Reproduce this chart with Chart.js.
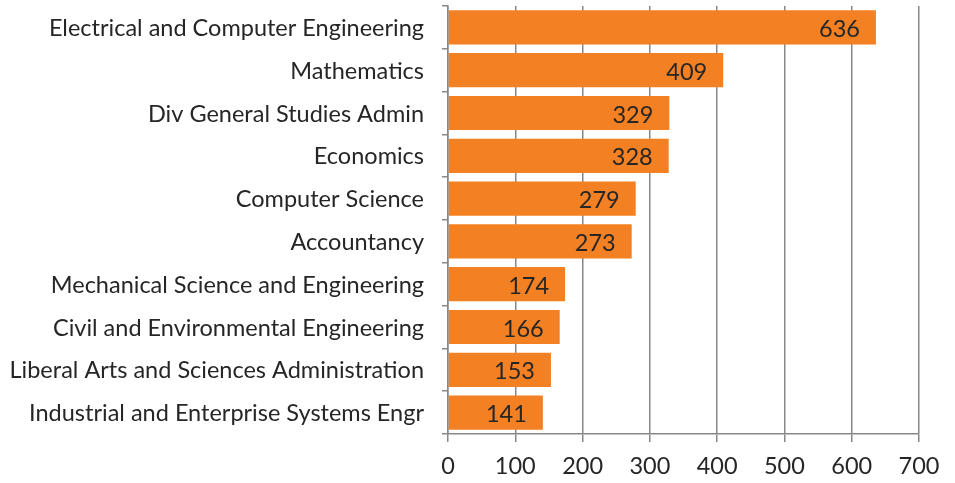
<!DOCTYPE html>
<html>
<head>
<meta charset="utf-8">
<script src="https://cdn.jsdelivr.net/npm/chart.js@4"></script>
<style>
  html, body { margin: 0; padding: 0; background: #fff; }
  #wrap { width: 955px; height: 483px; }
</style>
</head>
<body>
<div id="wrap"><canvas id="myChart"></canvas></div>
<script>
const departments = [
    'Electrical and Computer Engineering',
    'Mathematics',
    'Div General Studies Admin',
    'Economics',
    'Computer Science',
    'Accountancy',
    'Mechanical Science and Engineering',
    'Civil and Environmental Engineering',
    'Liberal Arts and Sciences Administration',
    'Industrial and Enterprise Systems Engr',
];
const counts = [636, 409, 329, 328, 279, 273, 174, 166, 153, 141];
const xTicks = [0, 100, 200, 300, 400, 500, 600, 700];

const colorVar = {
    bar: '#F38023',
    grid: '#888888',
    text: '#262626',
};
const fontFamily = 'Lato, "Open Sans", sans-serif';
const fontSize = 23.5;

// draws the value inside the end of each bar
const barValues = {
    id: 'barValues',
    afterDatasetsDraw(chart) {
        const c = chart.ctx;
        const meta = chart.getDatasetMeta(0);
        c.save();
        c.font = fontSize + 'px ' + fontFamily;
        c.fillStyle = colorVar.text;
        c.textAlign = 'right';
        c.textBaseline = 'middle';
        meta.data.forEach((bar, i) => {
            c.fillText(String(counts[i]), bar.x - 16, bar.y + 2);
        });
        c.restore();
    }
};

const ctx = document.getElementById('myChart');

new Chart(ctx, {
    type: 'bar',
    data: {
        labels: departments,
        datasets: [{
            data: counts,
            backgroundColor: colorVar.bar,
            borderWidth: 0,
            barPercentage: 0.8,
            categoryPercentage: 1,
        }]
    },
    plugins: [barValues],
    options: {
        indexAxis: 'y',
        responsive: true,
        maintainAspectRatio: false,
        animation: false,
        layout: { padding: { top: 6, right: 36, left: 0, bottom: 0 } },
        plugins: {
            legend: { display: false },
            tooltip: { enabled: false },
        },
        scales: {
            x: {
                min: 0,
                max: 700,
                afterBuildTicks(scale) {
                    scale.ticks = xTicks.map(v => ({ value: v }));
                },
                afterFit(scale) {
                    scale.height = 49;
                    scale.paddingLeft = 0;
                    scale.paddingRight = 0;
                },
                grid: {
                    color: colorVar.grid,
                    lineWidth: 1.5,
                    tickLength: 8,
                },
                border: { color: colorVar.grid, width: 1.5 },
                ticks: {
                    padding: 10,
                    color: colorVar.text,
                    font: { family: fontFamily, size: fontSize },
                },
            },
            y: {
                afterFit(scale) {
                    scale.width = 448;
                    scale.paddingTop = 0;
                    scale.paddingBottom = 0;
                },
                grid: {
                    drawOnChartArea: false,
                    color: colorVar.grid,
                    lineWidth: 1.5,
                    tickLength: 6,
                },
                border: { color: colorVar.grid, width: 1.5 },
                ticks: {
                    padding: 18,
                    labelOffset: 1,
                    color: colorVar.text,
                    font: { family: fontFamily, size: fontSize },
                },
            }
        }
    }
});
</script>
</body>
</html>
